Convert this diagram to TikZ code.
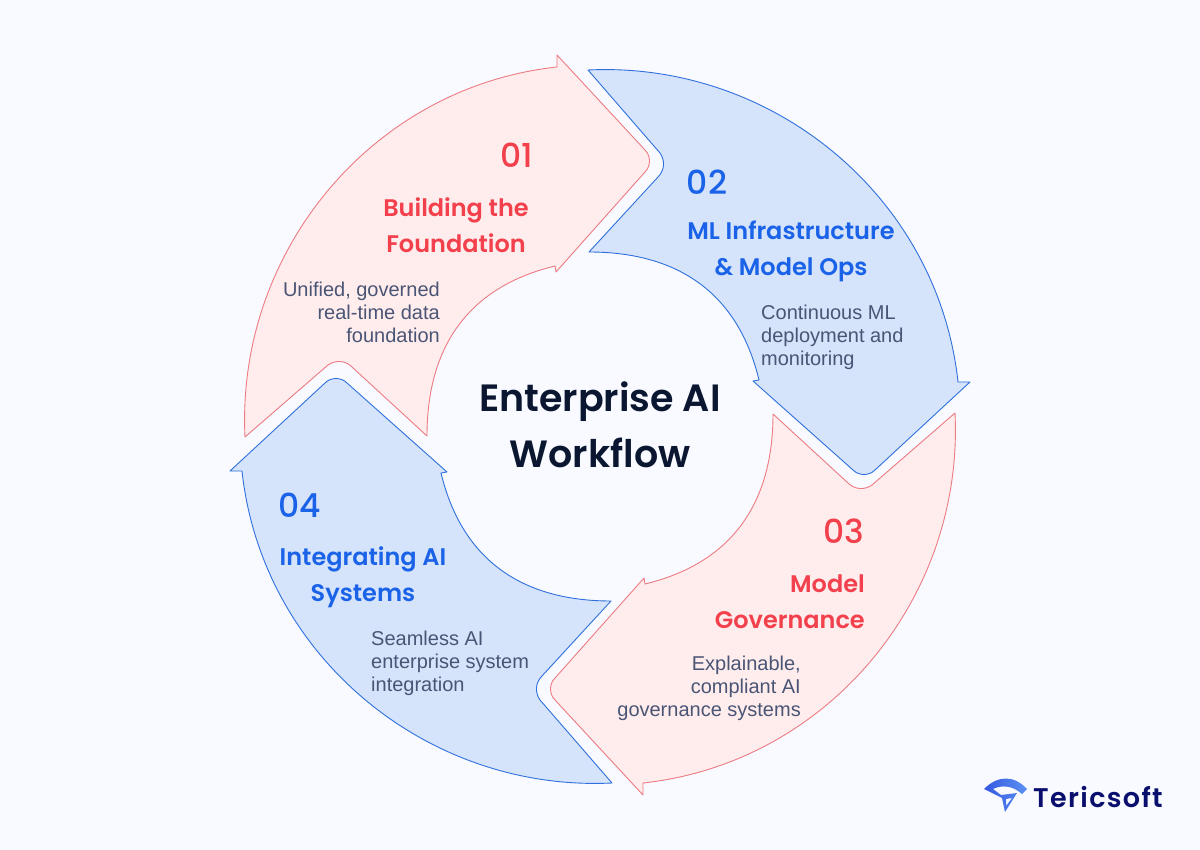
\documentclass[tikz,border=0pt]{standalone}
\usepackage{fontspec}
\setmainfont{Liberation Sans}
\newfontfamily\headfont{Poppins}[UprightFont=* SemiBold]
\newfontfamily\numfont{Poppins}[UprightFont=* Medium]
\newfontfamily\brandfont{Poppins}[UprightFont=* SemiBold, LetterSpace=5]
\definecolor{pagebg}{HTML}{F8FAFF}
\definecolor{redfill}{HTML}{FFEDED}
\definecolor{redline}{HTML}{EC7B82}
\definecolor{redtext}{HTML}{F2404C}
\definecolor{bluefill}{HTML}{D5E3FB}
\definecolor{blueline}{HTML}{2F70DC}
\definecolor{bluetext}{HTML}{1A63E8}
\definecolor{greytext}{HTML}{4A5575}
\definecolor{titletext}{HTML}{0B1730}
\definecolor{logotext}{HTML}{0A0F6E}
\definecolor{logoleft}{HTML}{3559E0}
\definecolor{logoright}{HTML}{5C90F2}
\begin{document}
\begin{tikzpicture}[x=1pt, y=-1pt]

        % Styles
        \tikzstyle{redarrow} = [draw=redline, fill=redfill, line width=0.9pt, line join=round]
        \tikzstyle{bluearrow} = [draw=blueline, fill=bluefill, line width=0.9pt, line join=round]
        \tikzstyle{number} = [inner sep=0pt, font=\numfont\fontsize{33}{33}\selectfont]
        \tikzstyle{heading} = [inner sep=0pt, align=center, font=\headfont\fontsize{24}{36}\selectfont]
        \tikzstyle{detail} = [inner sep=0pt, text=greytext, font=\fontsize{20}{23}\selectfont]

        % Background
        \fill[pagebg] (0,0) rectangle (1200,850);
        \useasboundingbox (0,0) rectangle (1200,850);

        % Arrow 01
        \draw[redarrow] (245,437) -- (328,365) .. controls (335,360) and (345,360) .. (352,367) -- (427,436) .. controls (427,347) and (468,287) .. (555,266) -- (556,272) -- (645,172) .. controls (651,166) and (651,156) .. (645,150) -- (557,55) -- (557,67) .. controls (372,87) and (236,252) .. cycle;
        \node[number, text=redtext] (num1) at (517,155) {01};
        \node[heading, text=redtext] (head1) at (456,225) {Building the\\Foundation};
        \node[detail, anchor=east, align=right] (text1) at (440,312) {Unified, governed\\real-time data\\foundation};

        % Arrow 02
        \draw[bluearrow] (588,70) -- (660,153) .. controls (665,160) and (665,170) .. (658,177) -- (589,252) .. controls (678,252) and (738,293) .. (759,380) -- (753,381) -- (853,470) .. controls (859,476) and (869,476) .. (875,470) -- (970,382) -- (958,382) .. controls (938,197) and (773,61) .. cycle;
        \node[number, text=bluetext] (num2) at (707,182) {02};
        \node[heading, text=bluetext] (head2) at (791,251) {ML Infrastructure\\\& Model Ops};
        \node[detail, anchor=west, align=left] (text2) at (761,337) {Continuous ML\\deployment and\\monitoring};

        % Arrow 03
        \draw[redarrow] (955,413) -- (872,485) .. controls (865,490) and (855,490) .. (848,483) -- (773,414) .. controls (773,503) and (732,563) .. (645,584) -- (644,578) -- (555,678) .. controls (549,684) and (549,694) .. (555,700) -- (643,795) -- (643,783) .. controls (828,763) and (964,598) .. cycle;
        \node[number, text=redtext] (num3) at (844,531) {03};
        \node[heading, text=redtext, align=right, anchor=east] (head3) at (865,602) {Model\\Governance};
        \node[detail, anchor=east, align=right] (text3) at (801,688) {Explainable,\\compliant AI\\governance systems};

        % Arrow 04
        \draw[bluearrow] (612,783) -- (540,700) .. controls (535,693) and (535,683) .. (542,676) -- (611,601) .. controls (522,601) and (462,560) .. (441,473) -- (447,472) -- (347,383) .. controls (341,377) and (331,377) .. (325,383) -- (230,471) -- (242,471) .. controls (262,656) and (427,792) .. cycle;
        \node[number, text=bluetext] (num4) at (300,505) {04};
        \node[heading, text=bluetext] (head4) at (363,577) {Integrating AI\\Systems};
        \node[detail, anchor=west, align=left] (text4) at (371,663) {Seamless AI\\enterprise system\\integration};

        % Centre title
        \node[inner sep=0pt, align=center, text=titletext, font=\headfont\fontsize{38}{56}\selectfont] (title) at (600,425) {Enterprise AI\\Workflow};

        % Logo
        \path[left color=logoleft, right color=logoright, even odd rule] (984,789) .. controls (998,775) and (1014,775) .. (1027,789) -- (1022,794) .. controls (1012,785) and (1001,785) .. (993,789) -- (1001,795) -- (1017,793) -- (1005,812) -- (1002,798) -- cycle (1006,799) -- (1012,798) -- (1006,806) -- cycle;
        \node[inner sep=0pt, anchor=west, text=logotext, font=\brandfont\fontsize{27}{27}\selectfont] (brand) at (1033,797) {Tericsoft};

\end{tikzpicture}
\end{document}
